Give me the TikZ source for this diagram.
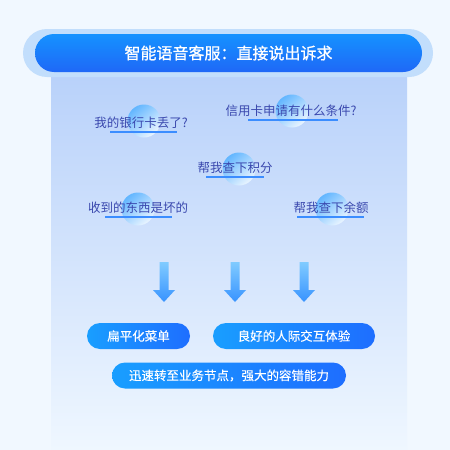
\documentclass[tikz,border=0pt]{standalone}
\usepackage{fontspec}
\setmainfont{Noto Sans CJK SC}
\newfontfamily\titlefont[FakeBold=0.9]{Noto Sans CJK SC}
\newfontfamily\pillfont[FakeBold=0.4]{Noto Sans CJK SC}
\usetikzlibrary{positioning, shapes.geometric}

\definecolor{pagebg}{HTML}{F1F8FF}
\definecolor{panelA}{HTML}{B8D1FA}
\definecolor{panelB}{HTML}{EFF7FF}
\definecolor{halo}{HTML}{C2DEFC}
\definecolor{titleA}{HTML}{1592FF}
\definecolor{titleB}{HTML}{1F68F7}
\definecolor{btnA}{HTML}{199EFF}
\definecolor{btnB}{HTML}{1E6EFF}
\definecolor{asktext}{HTML}{3A48AE}
\definecolor{ulinecol}{HTML}{3B8DFF}
\definecolor{ballA}{HTML}{62B6FF}
\definecolor{ballB}{HTML}{EAF5FF}
\definecolor{arrA}{HTML}{80CBFF}
\definecolor{arrB}{HTML}{3893FF}

\begin{document}
\begin{tikzpicture}[x=1pt, y=-1pt,
    pill/.style={rectangle, rounded corners=13pt, minimum height=26pt, text=white, font=\pillfont\fontsize{12.5}{14}\selectfont, left color=btnA, right color=btnB},
    ask/.style={text=asktext, font=\fontsize{12.5}{14}\selectfont, inner sep=0pt},
    ball/.style={circle, minimum size=33pt, inner sep=0pt, top color=ballA, bottom color=ballB, shading angle=40},
    uline/.style={draw=ulinecol, line width=1.8pt},
    downarrow/.style={top color=arrA, bottom color=arrB}
]
\useasboundingbox (0,0) rectangle (450,450);
\fill[pagebg] (0,0) rectangle (450,450);
\shade[top color=panelA, bottom color=panelB] (51,70) rectangle (407,450);

% title bar
\fill[halo, rounded corners=24pt] (23,29) rectangle (433,77);
\node[rectangle, rounded corners=19pt, minimum width=387pt, minimum height=38pt, top color=titleA, bottom color=titleB, text=white, font=\titlefont\fontsize{16}{18}\selectfont] (title) at (228.5,53) {智能语音客服：直接说出诉求};

% spoken requests
\node[ball] (lost-ball) at (144,121) {};
\node[ball] (credit-ball) at (292,111) {};
\node[ball] (points-ball) at (239,169) {};
\node[ball] (broken-ball) at (138,209) {};
\node[ball] (balance-ball) at (332,209) {};

\draw[uline] (110,132) -- (177,132);
\draw[uline] (248,120) -- (338,120);
\draw[uline] (206,177) -- (264,177);
\draw[uline] (105,217) -- (172,217);
\draw[uline] (297,217) -- (364,217);

\node[ask] (lost) at (141,123) {我的银行卡丢了?};
\node[ask] (credit) at (291,111) {信用卡申请有什么条件?};
\node[ask] (points) at (235,168) {帮我查下积分};
\node[ask] (broken) at (138,208) {收到的东西是坏的};
\node[ask] (balance) at (331,208) {帮我查下余额};

% arrows
\foreach \c in {164,235,304}
  \shade[downarrow] (\c-4.5,262) -- (\c+4.5,262) -- (\c+4.5,290) -- (\c+11,290) -- (\c,302) -- (\c-11,290) -- (\c-4.5,290) -- cycle;

% results
\node[pill, minimum width=103pt] (menu) at (138.5,336) {扁平化菜单};
\node[pill, minimum width=162pt] (talk) at (294,336) {良好的人际交互体验};
\node[pill, minimum width=234pt] (route) at (229,375.5) {迅速转至业务节点，强大的容错能力};
\end{tikzpicture}
\end{document}
